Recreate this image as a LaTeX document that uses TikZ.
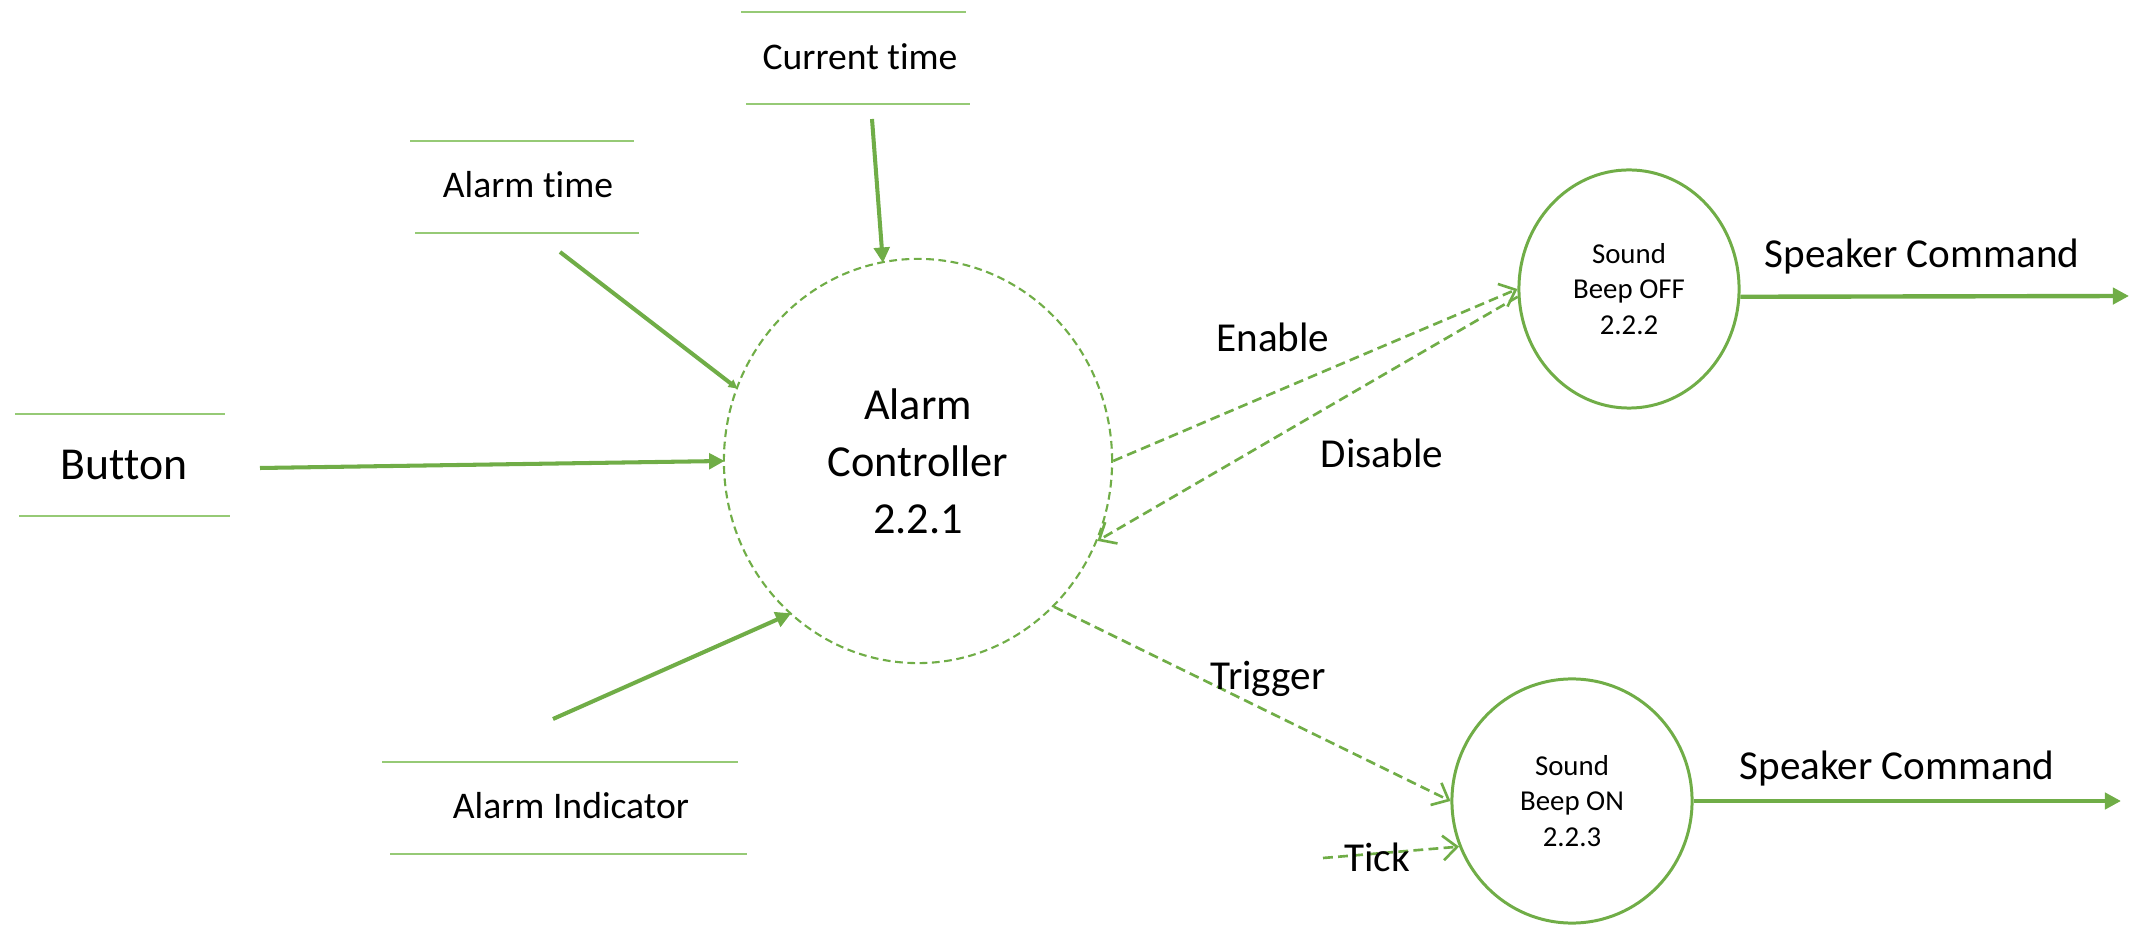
\documentclass[tikz,border=0pt]{standalone}
\usepackage{fontspec}
\setmainfont{Carlito}[Ligatures={NoCommon}]
\usetikzlibrary{arrows.meta,shapes.geometric}
\definecolor{dgreen}{RGB}{112,173,71}
\definecolor{lgreen}{RGB}{150,202,118}
\tikzset{
  storeline/.style={draw=lgreen,line width=0.6pt},
  storetxt/.style={anchor=base,inner sep=0pt,font=\fontsize{10.7}{12}\selectfont},
  flowtxt/.style={anchor=base,inner sep=0pt,font=\fontsize{11.7}{14}\selectfont},
  flow/.style={draw=dgreen,line width=1.15pt,-{Triangle[length=4.4pt,width=4.4pt]},shorten >=-0.5pt},
  bigflow/.style={draw=dgreen,line width=1.25pt,-{Triangle[length=4.6pt,width=4.6pt]}},
  dflow/.style={draw=dgreen,line width=0.75pt,dash pattern=on 2.8pt off 1.5pt,-{Straight Barb[length=4pt,width=7pt,line width=0.75pt]}},
  proc/.style={ellipse,draw=dgreen,line width=0.85pt,inner sep=0pt,align=center},
}
\begin{document}
\begin{tikzpicture}[x=0.01cm,y=-0.01cm]
\useasboundingbox (0,0) rectangle (2139,925);
% processes
\node[proc,draw=dgreen,dash pattern=on 2.2pt off 1.3pt,line width=0.6pt,minimum width=3.88cm,minimum height=4.04cm,font=\fontsize{12.6}{16.2}\selectfont] (main) at (918,461) {Alarm\\Controller\\2.2.1};
\node[proc,minimum width=2.2cm,minimum height=2.38cm,font=\fontsize{8.2}{10}\selectfont] (off) at (1629,289) {Sound\\Beep OFF\\2.2.2};
\node[proc,minimum width=2.4cm,minimum height=2.44cm,font=\fontsize{8.2}{10}\selectfont] (on) at (1572,801) {Sound\\Beep ON\\2.2.3};
% data stores
\node[storetxt] (ct) at (860,70) {Current time};
\draw[storeline] (741,12) -- (966,12) (746,104) -- (970,104);
\node[storetxt] (at) at (528,198) {Alarm time};
\draw[storeline] (410,141) -- (634,141) (415,233) -- (639,233);
\node[storetxt,font=\fontsize{13}{15}\selectfont] (btn) at (124,480) {Button};
\draw[storeline] (15,414) -- (225,414) (19,516) -- (230,516);
\node[storetxt] (ai) at (571,818) {Alarm Indicator};
\draw[storeline] (382,762) -- (738,762) (390,854) -- (747,854);
% connector free ends
\coordinate (ctout) at (872,119);
\coordinate (atout) at (560,252);
\coordinate (btnout) at (260,468);
\coordinate (aiout) at (553,719);
\coordinate (tickin) at (1323,858);
\coordinate (spk1) at (2129,296);
\coordinate (spk2) at (2121,801);
% flows
\draw[flow] (ctout) -- (main.100);
\draw[flow,-{Triangle[length=2.5pt,width=2.5pt]}] (atout) -- (main.158.3);
\draw[flow] (btnout) -- (main.180);
\draw[flow] (aiout) -- (main.230.6);
\draw[dflow] (main.0.3) -- (off.180);
\draw[dflow] (off.184) -- (main.336.5);
\draw[dflow] (main.313.8) -- (on.180);
\draw[dflow] (tickin) -- (on.202);
\draw[bigflow] (off.356.4) -- (spk1);
\draw[bigflow] (on.0) -- (spk2);
% labels
\node[flowtxt] (en) at (1273,352) {Enable};
\node[flowtxt] (dis) at (1382,468) {Disable};
\node[flowtxt] (trg) at (1268,690) {Trigger};
\node[flowtxt] (tick) at (1377,872) {Tick};
\node[flowtxt] (sc1) at (1922,268) {Speaker Command};
\node[flowtxt] (sc2) at (1897,780) {Speaker Command};
\end{tikzpicture}
\end{document}
